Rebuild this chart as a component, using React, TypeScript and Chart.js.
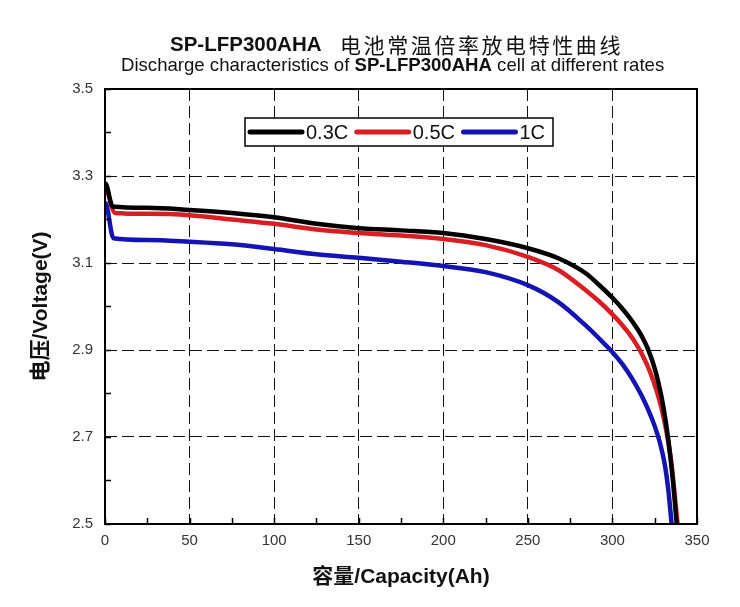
import React, { useEffect, useRef } from "react";
import { Chart, registerables } from "chart.js";

Chart.register(...registerables);

// ---- data ----
const seriesLabels = ["0.3C", "0.5C", "1C"];
const seriesColors = ["#000000", "#d81e23", "#1414b4"];

const cap03 = [0, 1, 4.5, 25, 50, 75, 100, 125, 150, 175, 200, 225, 250, 268, 284, 292, 300, 305, 310, 315, 318, 321, 324, 327, 330, 333, 335.5, 338];
const volt03 = [3.285, 3.278, 3.23, 3.227, 3.222, 3.215, 3.205, 3.19, 3.18, 3.175, 3.169, 3.155, 3.134, 3.111, 3.077, 3.05, 3.02, 2.999, 2.975, 2.947, 2.927, 2.902, 2.87, 2.828, 2.772, 2.695, 2.61, 2.5];

const cap05 = [0, 1, 6, 25, 50, 75, 100, 125, 150, 175, 200, 225, 250, 268, 284, 292, 300, 305, 310, 314, 318, 322, 326, 329, 332, 335, 338.5];
const volt05 = [3.28, 3.27, 3.215, 3.213, 3.21, 3.2, 3.19, 3.177, 3.169, 3.163, 3.155, 3.141, 3.114, 3.084, 3.038, 3.012, 2.982, 2.961, 2.937, 2.914, 2.886, 2.852, 2.808, 2.766, 2.711, 2.635, 2.5];

const cap1 = [0, 1, 5, 25, 50, 75, 100, 125, 150, 175, 200, 225, 250, 268, 284, 292, 300, 306, 312, 317, 321, 325, 328, 331, 333, 335];
const volt1 = [3.24, 3.232, 3.157, 3.153, 3.149, 3.143, 3.132, 3.12, 3.112, 3.103, 3.093, 3.079, 3.049, 3.01, 2.957, 2.927, 2.895, 2.867, 2.832, 2.797, 2.764, 2.725, 2.688, 2.636, 2.58, 2.5];

const xMin = 0;
const xMax = 350;
const xStep = 50;
const xMinorStep = 25;
const yMin = 2.5;
const yMax = 3.5;
const yStep = 0.2;
const yMinorStep = 0.1;

const titleLine1Bold = "SP-LFP300AHA";
const titleLine1Cn = "电池常温倍率放电特性曲线";
const titleLine2a = "Discharge characteristics of ";
const titleLine2b = "SP-LFP300AHA";
const titleLine2c = " cell at different rates";
const xTitle = "容量/Capacity(Ah)";
const yTitle = "电压/Voltage(V)";

const LATIN = "'Liberation Sans', Arial, sans-serif";
const CJK = "'Noto Sans CJK SC', sans-serif";
const TITLE_FAMILY = "'Liberation Sans', Arial, 'Noto Sans CJK SC', sans-serif";

const toPoints = (xs: number[], ys: number[]) => xs.map((x, i) => ({ x, y: ys[i] }));

const titlePlugin = {
  id: "customTitles",
  afterDraw(chart: any) {
    const ctx = chart.ctx as CanvasRenderingContext2D;
    ctx.save();
    ctx.fillStyle = "#111";
    ctx.textBaseline = "middle";
    ctx.textAlign = "left";
    // line 1
    ctx.font = `bold 20.5px ${LATIN}`;
    ctx.fillText(titleLine1Bold, 170, 45);
    ctx.font = `21px ${CJK}`;
    const chars = Array.from(titleLine1Cn);
    const pitch = (623 - 340) / chars.length;
    chars.forEach((c, i) => ctx.fillText(c, 340 + i * pitch, 45));
    // line 2
    let x = 121;
    ctx.font = `18.6px ${LATIN}`;
    ctx.fillText(titleLine2a, x, 66);
    x += ctx.measureText(titleLine2a).width;
    ctx.font = `bold 18.6px ${LATIN}`;
    ctx.fillText(titleLine2b, x, 66);
    x += ctx.measureText(titleLine2b).width;
    ctx.font = `18.6px ${LATIN}`;
    ctx.fillText(titleLine2c, x, 66);
    ctx.restore();
  },
};

const framePlugin = {
  id: "frameTicks",
  afterDatasetsDraw(chart: any) {
    const ctx = chart.ctx as CanvasRenderingContext2D;
    const { left, right, top, bottom } = chart.chartArea;
    const xs = chart.scales.x;
    const ys = chart.scales.y;
    ctx.save();
    ctx.strokeStyle = "#000";
    ctx.lineWidth = 1.5;
    ctx.beginPath();
    for (let v = xMin; v <= xMax + 1e-9; v += xMinorStep) {
      const px = Math.round(xs.getPixelForValue(v)) + 0.5;
      ctx.moveTo(px, bottom);
      ctx.lineTo(px, bottom - 6);
    }
    for (let v = yMin; v <= yMax + 1e-9; v += yMinorStep) {
      const py = Math.round(ys.getPixelForValue(v)) + 0.5;
      ctx.moveTo(left, py);
      ctx.lineTo(left + 6, py);
    }
    ctx.stroke();
    ctx.lineWidth = 2;
    ctx.strokeRect(left, top, right - left, bottom - top);
    ctx.restore();
  },
  afterDraw(chart: any) {
    // legend box
    const ctx = chart.ctx as CanvasRenderingContext2D;
    ctx.save();
    const bx = 245, by = 118, bw = 308, bh = 28;
    ctx.fillStyle = "#fff";
    ctx.fillRect(bx, by, bw, bh);
    ctx.strokeStyle = "#000";
    ctx.lineWidth = 1.5;
    ctx.strokeRect(bx, by, bw, bh);
    ctx.font = `20px ${LATIN}`;
    ctx.textBaseline = "middle";
    ctx.textAlign = "left";
    let x = 250;
    const cy = by + bh / 2;
    chart.data.datasets.forEach((ds: any) => {
      ctx.strokeStyle = ds.borderColor;
      ctx.lineWidth = 5;
      ctx.lineCap = "round";
      ctx.beginPath();
      ctx.moveTo(x, cy);
      ctx.lineTo(x + 52, cy);
      ctx.stroke();
      ctx.fillStyle = "#111";
      ctx.fillText(ds.label, x + 56, cy + 1);
      x += 56 + ctx.measureText(ds.label).width + 8.5;
    });
    ctx.restore();
  },
};

export default function App() {
  const canvasRef = useRef<HTMLCanvasElement | null>(null);

  useEffect(() => {
    if (!canvasRef.current) return;
    const datasets = [
      toPoints(cap03, volt03),
      toPoints(cap05, volt05),
      toPoints(cap1, volt1),
    ].map((pts, i) => ({
      label: seriesLabels[i],
      data: pts,
      borderColor: seriesColors[i],
      backgroundColor: seriesColors[i],
      borderWidth: 4.5,
      pointRadius: 0,
      showLine: true,
      fill: false,
      cubicInterpolationMode: "monotone" as const,
    }));

    const chart = new Chart(canvasRef.current, {
      type: "scatter",
      data: { datasets },
      options: {
        animation: false,
        responsive: false,
        layout: { padding: { top: 89, right: 43, left: 25, bottom: 13 } },
        plugins: {
          legend: { display: false },
          title: { display: false },
          tooltip: { enabled: false },
        },
        scales: {
          x: {
            type: "linear",
            min: xMin,
            max: xMax,
            afterFit: (s: any) => {
              s.height = 70;
            },
            ticks: {
              stepSize: xStep,
              padding: 8,
              color: "#333",
              font: { family: LATIN, size: 15 },
            },
            grid: { color: "#111", lineWidth: 1, drawTicks: false },
            border: { display: false, dash: [12, 5] },
            title: {
              display: true,
              text: xTitle,
              color: "#111",
              font: { family: TITLE_FAMILY, size: 21, weight: "bold" },
              padding: { top: 4, bottom: 4 },
            },
          },
          y: {
            type: "linear",
            min: yMin,
            max: yMax,
            afterFit: (s: any) => {
              s.width = 80;
            },
            ticks: {
              stepSize: yStep,
              padding: 12,
              color: "#333",
              font: { family: LATIN, size: 15 },
              callback: (v: any) => Number(v).toFixed(1),
            },
            grid: { color: "#111", lineWidth: 1, drawTicks: false },
            border: { display: false, dash: [12, 5] },
            title: {
              display: true,
              text: yTitle,
              color: "#111",
              font: { family: TITLE_FAMILY, size: 21, weight: "bold" },
              padding: { top: 4, bottom: 4 },
            },
          },
        },
      },
      plugins: [framePlugin, titlePlugin],
    });
    return () => chart.destroy();
  }, []);

  return (
    <div style={{ position: "absolute", left: 0, top: 0, width: 740, height: 607, background: "#fff" }}>
      <canvas ref={canvasRef} width={740} height={607} style={{ display: "block" }} />
    </div>
  );
}
